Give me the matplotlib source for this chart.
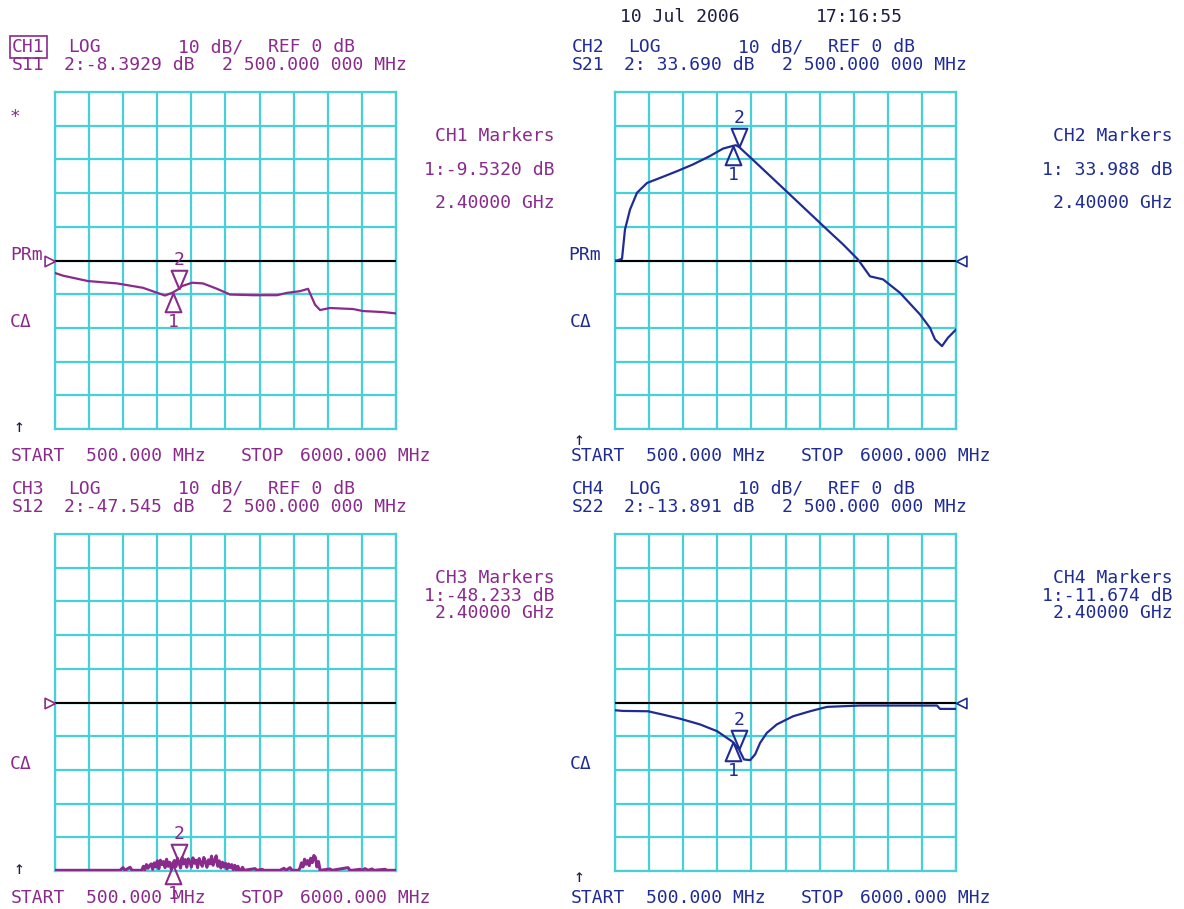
import numpy as np
import matplotlib
matplotlib.use('Agg')
import matplotlib.pyplot as plt

# sweep / display settings of the analyzer
start_mhz, stop_mhz = 500.0, 6000.0
ref_db, scale_db = 0.0, 10.0
m1_mhz, m2_mhz = 2400.0, 2500.0

# CH1  S11
s11_freq = [500, 629, 1032, 1500, 1919, 2274, 2400, 2500, 2548, 2710, 2887, 3113,
            3323, 3694, 4081, 4242, 4452, 4581, 4694, 4774, 4935, 5306, 5468, 5790, 6000]
s11_db = [-3.7, -4.5, -6.1, -6.8, -8.1, -10.4, -9.5, -8.4, -7.6, -6.6, -6.8, -8.4,
          -10.1, -10.3, -10.3, -9.6, -9.1, -8.4, -13.1, -14.7, -14.1, -14.4, -15.0, -15.3, -15.7]
s11_m1, s11_m2 = -9.532, -8.3929

# CH2  S21
s21_freq = [500, 532, 613, 661, 742, 855, 1016, 1226, 1500, 1758, 2032, 2242, 2400, 2450,
            2500, 2629, 2839, 3371, 3919, 4177, 4419, 4613, 4823, 5097, 5419, 5581, 5661,
            5774, 5871, 6000]
s21_db = [0.0, 0.0, 0.5, 9.2, 15.1, 20.1, 23.0, 24.5, 26.5, 28.5, 31.0, 33.2, 34.0, 34.2,
          33.7, 31.5, 27.9, 18.7, 9.2, 4.8, 0.3, -4.7, -5.6, -9.6, -16.0, -20.0, -23.4,
          -25.4, -22.9, -20.5]
s21_m1, s21_m2 = 33.988, 33.690

# CH3  S12 (noise floor)
s12_freq = [500, 1548, 1597, 1629, 1710, 1742, 1871,
            1900, 1925, 1950, 1975, 2000, 2025, 2050, 2075, 2100, 2125, 2150, 2175, 2200,
            2225, 2250, 2275, 2300, 2325, 2350, 2375, 2400, 2425, 2450, 2475, 2500, 2525,
            2550, 2575, 2600, 2625, 2650, 2675, 2700, 2725, 2750, 2775, 2800, 2825, 2850,
            2875, 2900, 2925, 2950, 2975, 3000, 3025, 3050, 3075, 3100, 3125, 3150, 3175,
            3200, 3225, 3250, 3275, 3300, 3325, 3350, 3375, 3400, 3425, 3450, 3475, 3500,
            3525, 3550,
            3726, 3758, 3839, 3871, 4129, 4194, 4226, 4290, 4323,
            4425, 4450, 4475, 4500, 4525, 4550, 4575, 4600, 4625, 4650, 4675, 4700, 4725,
            4750, 4775,
            4935, 4968, 5226, 5258, 5290, 5419, 5452, 5500, 5548, 5613, 5645, 5823, 5855, 6000]
s12_db = [-49.8, -49.8, -49.0, -49.8, -48.9, -49.8, -49.8,
          -49.8, -48.6, -49.6, -48.1, -49.2, -48.4, -47.9, -49.5, -47.6, -48.8, -47.0, -49.3,
          -46.8, -48.1, -47.2, -49.0, -46.5, -48.6, -47.4, -49.4, -47.8, -46.9, -48.7, -46.2,
          -47.6, -49.1, -46.0, -47.9, -46.6, -48.9, -46.4, -47.3, -48.8, -46.1, -47.7, -46.8,
          -49.0, -46.3, -47.5, -48.6, -46.0, -47.2, -48.9, -46.7, -47.9, -45.6, -48.3, -46.9,
          -45.5, -48.6, -47.0, -49.1, -47.4, -48.8, -47.7, -49.4, -47.9, -49.0, -48.1, -49.6,
          -48.3, -49.8, -48.6, -49.8, -49.8, -48.9, -49.8,
          -49.3, -49.8, -49.5, -49.8, -49.8, -49.2, -49.8, -49.0, -49.8,
          -49.8, -49.2, -47.6, -48.8, -46.5, -48.0, -46.9, -48.4, -46.2, -47.5, -45.4, -46.0,
          -48.8, -47.2, -49.8,
          -49.4, -49.8, -49.0, -49.8, -49.8, -49.5, -49.8, -49.3, -49.8, -49.4, -49.8, -49.5,
          -49.8, -49.8]
s12_m1, s12_m2 = -48.233, -47.545

# CH4  S22
s22_freq = [500, 629, 1032, 1274, 1548, 1871, 2145, 2400, 2500, 2580, 2680, 2760, 2840,
            2950, 3110, 3370, 3645, 3919, 4452, 5694, 5742, 6000]
s22_db = [-2.3, -2.5, -2.6, -3.6, -4.8, -6.5, -8.5, -11.7, -13.9, -16.9, -17.1, -15.4,
          -12.0, -9.0, -6.5, -4.1, -2.6, -1.3, -0.9, -0.9, -1.9, -1.9]
s22_m1, s22_m2 = -11.674, -13.891

W, H = 1184, 909
FS = 13
MONO = 'DejaVu Sans Mono'
CYAN = '#48d0d8'
PURPLE = '#8a2a8c'
BLUE = '#1f2c94'
DARK = '#1c1c44'

fig = plt.figure(figsize=(W / 100, H / 100), dpi=100)
fig.patch.set_facecolor('white')


def put(x, y, s, color, ha='left', **kw):
    # x, y in pixels from the top-left corner
    return fig.text(x / W, 1 - y / H, s, color=color, ha=ha, va='center',
                    fontsize=FS, family=MONO, **kw)


tri_down = [(0, 0), (-0.42, 1), (0.42, 1), (0, 0)]
tri_up = [(0, 0), (-0.42, -1), (0.42, -1), (0, 0)]
ptr_right = [(0, 0), (-1, 0.5), (-1, -0.5), (0, 0)]
ptr_left = [(0, 0), (1, 0.5), (1, -0.5), (0, 0)]


def panel(x0, y0, freq, db, m1, m2, color, ptr, lw=1.6):
    ax = fig.add_axes([x0 / W, 1 - (y0 + 337) / H, 341 / W, 337 / H])
    ax.set_xlim(start_mhz, stop_mhz)
    ax.set_ylim(ref_db - 5 * scale_db, ref_db + 5 * scale_db)
    ax.set_xticks(np.linspace(start_mhz, stop_mhz, 11))
    ax.set_yticks(np.linspace(ref_db - 5 * scale_db, ref_db + 5 * scale_db, 11))
    ax.grid(True, color=CYAN, lw=1.6)
    ax.tick_params(length=0, labelbottom=False, labelleft=False)
    for sp in ax.spines.values():
        sp.set_color(CYAN)
        sp.set_linewidth(1.6)
    ax.axhline(ref_db, color='black', lw=1.5, zorder=3)
    ax.plot(freq, db, color=color, lw=lw, zorder=4)

    # reference position pointer
    if ptr == 'left':
        ax.plot([start_mhz], [ref_db], marker=ptr_right, ms=15, mfc='white', mec=color,
                mew=1.2, clip_on=False, zorder=5)
    else:
        ax.plot([stop_mhz], [ref_db], marker=ptr_left, ms=15, mfc='white', mec=color,
                mew=1.2, clip_on=False, zorder=5)

    # markers 1 and 2
    ax.plot([m2_mhz], [m2], marker=tri_down, ms=27, mfc='none', mec=color, mew=1.5,
            clip_on=False, zorder=6)
    ax.plot([m1_mhz], [m1], marker=tri_up, ms=27, mfc='none', mec=color, mew=1.5,
            clip_on=False, zorder=6)
    ax.annotate('2', (m2_mhz, m2), xytext=(0, 21), textcoords='offset points',
                ha='center', va='center', color=color, fontsize=FS, family=MONO,
                annotation_clip=False)
    ax.annotate('1', (m1_mhz, m1), xytext=(0, -21), textcoords='offset points',
                ha='center', va='center', color=color, fontsize=FS, family=MONO,
                annotation_clip=False, zorder=7)
    return ax


def header(dx, dy, ch, par, m2_txt, m1_txt, color, gap):
    put(dx + 12, dy + 47, ch, color,
        bbox=dict(boxstyle='square,pad=0.12', fc='none', ec=color, lw=1.2) if ch == 'CH1' else None)
    put(dx + 68, dy + 47, 'LOG', color)
    put(dx + 178, dy + 47, '10 dB/', color)
    put(dx + 268, dy + 47, 'REF 0 dB', color)
    put(dx + 12, dy + 65, par, color)
    put(dx + 64, dy + 65, m2_txt, color)
    put(dx + 222, dy + 65, '2 500.000 000 MHz', color)
    put(dx + 10, dy + 322, 'C\u0394', color)
    # marker table on the right
    rx = 555 if dx == 0 else 1173
    put(rx, dy + 136, ch + ' Markers', color, ha='right')
    put(rx, dy + 170 - gap, m1_txt, color, ha='right')
    put(rx, dy + 203 - 2 * gap, '2.40000 GHz', color, ha='right')
    # sweep line
    put(dx + 11, dy + 456, 'START', color)
    put(dx + 86, dy + 456, '500.000 MHz', color)
    put(dx + 241, dy + 456, 'STOP', color)
    put(dx + 300, dy + 456, '6000.000 MHz', color)


panel(55, 92, s11_freq, s11_db, s11_m1, s11_m2, PURPLE, 'left')
panel(615, 92, s21_freq, s21_db, s21_m1, s21_m2, BLUE, 'right')
panel(55, 534, s12_freq, s12_db, s12_m1, s12_m2, PURPLE, 'left', lw=2.2)
panel(615, 534, s22_freq, s22_db, s22_m1, s22_m2, BLUE, 'right')

header(0, 0, 'CH1', 'S11', '2:-8.3929 dB', '1:-9.5320 dB', PURPLE, 0)
header(560, 0, 'CH2', 'S21', '2: 33.690 dB', '1: 33.988 dB', BLUE, 0)
header(0, 442, 'CH3', 'S12', '2:-47.545 dB', '1:-48.233 dB', PURPLE, 16)
header(560, 442, 'CH4', 'S22', '2:-13.891 dB', '1:-11.674 dB', BLUE, 16)

put(620, 17, '10 Jul 2006', DARK)
put(816, 17, '17:16:55', DARK)
put(10, 255, 'PRm', PURPLE)
put(568, 255, 'PRm', BLUE)
put(10, 117, '*', PURPLE)
put(14, 427, '\u2191', DARK)
put(574, 440, '\u2191', DARK)
put(14, 869, '\u2191', DARK)
put(574, 877, '\u2191', DARK)

fig.savefig('out.png', dpi=100, facecolor='white')
